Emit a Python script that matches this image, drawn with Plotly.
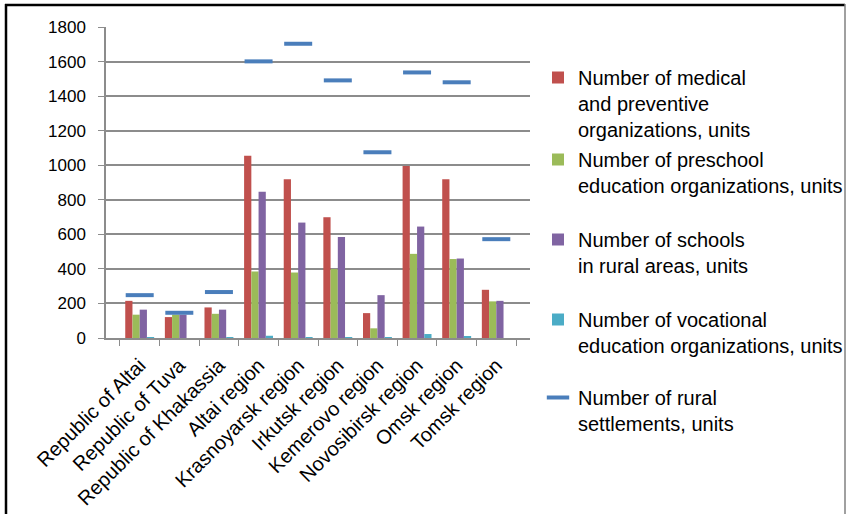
import plotly.graph_objects as go

# Regions of Siberia
regions = [
    "Republic of Altai", "Republic of Tuva", "Republic of Khakassia",
    "Altai region", "Krasnoyarsk region", "Irkutsk region",
    "Kemerovo region", "Novosibirsk region", "Omsk region", "Tomsk region",
]

medical = [215, 121, 177, 1055, 919, 699, 144, 996, 919, 279]
preschool = [135, 135, 140, 385, 379, 399, 56, 487, 457, 212]
schools = [164, 135, 164, 847, 668, 585, 248, 645, 460, 215]
vocational = [1, 0, 3, 13, 3, 3, 1, 23, 10, 0]
settlements = [248, 146, 266, 1601, 1703, 1491, 1075, 1537, 1480, 572]

names = [
    "Number of medical<br>and preventive<br>organizations, units",
    "Number of preschool<br>education organizations, units",
    "Number of schools<br>in rural areas, units",
    "Number of vocational<br>education organizations, units",
    "Number of rural<br>settlements, units",
]
colors = ["#C0504D", "#9BBB59", "#8064A2", "#4BACC6", "#4A7EBB"]

FONT = "Liberation Sans, Arial, sans-serif"
W, H = 846, 514
PL, PR, PT, PB = 106, 530, 27, 338  # plot area in pixels


def fx(px):
    return (px - PL) / (PR - PL)


def fy(py):
    return (PB - py) / (PB - PT)


fig = go.Figure()
legend_ids = ["legend", "legend2", "legend3", "legend4", "legend5"]

for vals, name, col, lg in zip(
    [medical, preschool, schools, vocational], names[:4], colors[:4], legend_ids[:4]
):
    fig.add_trace(go.Bar(
        x=regions, y=vals, name=name, marker=dict(color=col, line=dict(width=0)),
        legend=lg,
    ))

fig.add_trace(go.Scatter(
    x=regions, y=settlements, name=names[4], mode="markers",
    marker=dict(symbol="line-ew", size=20, color=colors[4],
                line=dict(color=colors[4], width=4)),
    legend=legend_ids[4],
))

# legend entries placed one below another
legend_rows = [58, 140, 220, 300, 378]
layout_legends = {}
for lg, row in zip(legend_ids, legend_rows):
    layout_legends[lg] = dict(
        x=fx(538), y=fy(row), xanchor="left", yanchor="top",
        font=dict(family=FONT, size=20, color="black"),
        bgcolor="rgba(0,0,0,0)", borderwidth=0, valign="top",
    )

grid = "#8C8C8C"
fig.update_layout(
    width=W, height=H,
    margin=dict(l=PL, r=W - PR, t=PT, b=H - PB, autoexpand=False),
    paper_bgcolor="white", plot_bgcolor="white",
    barmode="group", bargap=0.27, bargroupgap=0,
    showlegend=True,
    font=dict(family=FONT, color="black"),
    xaxis=dict(
        type="category", tickangle=-45, tickfont=dict(size=20, color="black"),
        showline=True, linecolor=grid, linewidth=1.5,
        ticks="outside", tickson="boundaries", ticklen=6, tickcolor=grid,
        ticklabelstandoff=6, showgrid=False, fixedrange=True,
    ),
    yaxis=dict(
        range=[0, 1800], dtick=200, tickfont=dict(size=17, color="black"),
        showgrid=True, gridcolor=grid, gridwidth=1.5,
        showline=True, linecolor=grid, linewidth=1.5,
        ticks="outside", ticklen=6, tickcolor=grid, ticklabelstandoff=9,
        zeroline=False, fixedrange=True,
    ),
    shapes=[
        dict(type="line", xref="paper", yref="paper", x0=fx(6), x1=fx(6),
             y0=fy(4), y1=fy(514), line=dict(color="black", width=2.5)),
        dict(type="line", xref="paper", yref="paper", x0=fx(5), x1=fx(845),
             y0=fy(5), y1=fy(5), line=dict(color="black", width=2.5)),
        dict(type="line", xref="paper", yref="paper", x0=fx(845), x1=fx(845),
             y0=fy(4), y1=fy(514), line=dict(color="#808080", width=1.5)),
    ],
    **layout_legends,
)

fig.write_html("out.html")
